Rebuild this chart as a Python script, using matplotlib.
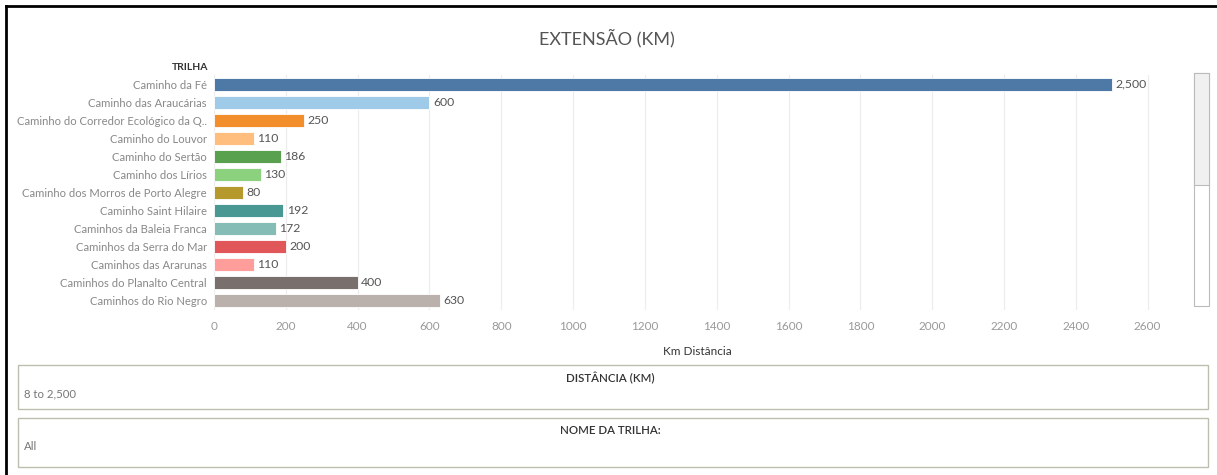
import matplotlib.pyplot as plt
from matplotlib.patches import Rectangle

trilhas = [
    "Caminho da Fé", "Caminho das Araucárias", "Caminho do Corredor Ecológico da Q..",
    "Caminho do Louvor", "Caminho do Sertão", "Caminho dos Lírios",
    "Caminho dos Morros de Porto Alegre", "Caminho Saint Hilaire",
    "Caminhos da Baleia Franca", "Caminhos da Serra do Mar", "Caminhos das Ararunas",
    "Caminhos do Planalto Central", "Caminhos do Rio Negro",
]
km = [2500, 600, 250, 110, 186, 130, 80, 192, 172, 200, 110, 400, 630]
cores = ["#4e79a7", "#a0cbe8", "#f28e2b", "#ffbe7d", "#59a14f", "#8cd17d", "#b6992d",
         "#499894", "#86bcb6", "#e15759", "#ff9d9a", "#79706e", "#bab0ac"]
ticks = list(range(0, 2601, 200))

plt.rcParams['font.family'] = ['Lato', 'DejaVu Sans']

W, H = 1217, 475
fig = plt.figure(figsize=(W / 100, H / 100), dpi=100)

def fx(px):
    return px / W

def fy(py):
    return 1 - py / H

# main bar axes
ax = fig.add_axes([fx(214), fy(310), fx(1180) - fx(214), fy(75) - fy(310)])
y = list(range(len(trilhas)))
ax.barh(y, km, height=0.72, color=cores, edgecolor="white", linewidth=0.6, zorder=2)
for yi, v in zip(y, km):
    ax.text(v + 10, yi, f"{v:,}", va="center", ha="left", fontsize=8.8, color="#555555")
ax.set_xlim(0, 2690)
ax.set_ylim(len(trilhas) - 0.5, -0.5)
ax.set_yticks(y)
ax.set_yticklabels(trilhas, fontsize=8.1, color="#888888")
ax.set_xticks(ticks)
ax.set_xticklabels([str(t) for t in ticks], fontsize=8.5, color="#999999")
ax.tick_params(length=0, pad=8)
ax.tick_params(axis="y", pad=5)
ax.grid(axis="x", color="#ececec", linewidth=0.8, zorder=0)
for s in ax.spines.values():
    s.set_visible(False)
ax.set_xlabel("Km Distância", fontsize=8.5, color="#333333", labelpad=10)

# titles
fig.text(fx(607), fy(38), "EXTENSÃO (KM)", ha="center", va="center", fontsize=13, color="#555555")
fig.text(fx(208), fy(67), "TRILHA", ha="right", va="center", fontsize=7.5, color="#333333",
         fontweight="bold")

# scrollbar
fig.patches.append(Rectangle((fx(1194), fy(306)), fx(15), fy(73) - fy(306),
                             transform=fig.transFigure, facecolor="white",
                             edgecolor="#bbbbbb", linewidth=0.8))
fig.patches.append(Rectangle((fx(1194), fy(185)), fx(15), fy(73) - fy(185),
                             transform=fig.transFigure, facecolor="#f0f0f0",
                             edgecolor="#bbbbbb", linewidth=0.8))

# filter boxes
for top, bot, titulo, valor in [(365, 409, "DISTÂNCIA (KM)", "8 to 2,500"),
                                (418, 467, "NOME DA TRILHA:", "All")]:
    fig.patches.append(Rectangle((fx(18), fy(bot)), fx(1208) - fx(18), fy(top) - fy(bot),
                                 transform=fig.transFigure, facecolor="white",
                                 edgecolor="#bdbdb0", linewidth=1.0))
    fig.text(fx(610), fy(top + 13), titulo, ha="center", va="center", fontsize=8.3,
             color="#333333", fontweight="semibold")
    fig.text(fx(24), fy(top + 29), valor, ha="left", va="center", fontsize=8.2,
             color="#777777")

# outer frame (top and left edges)
fig.add_artist(plt.Line2D([fx(6), 1], [fy(6), fy(6)], color="black", linewidth=2))
fig.add_artist(plt.Line2D([fx(6), fx(6)], [0, fy(6)], color="black", linewidth=2))

fig.savefig("out.png", dpi=100)
